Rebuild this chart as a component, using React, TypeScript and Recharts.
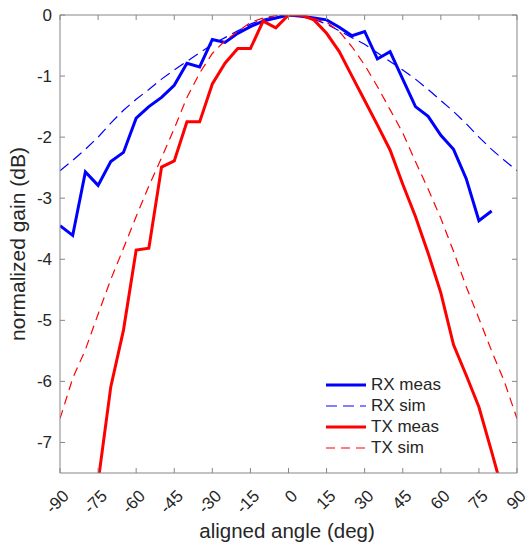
import React from "react";
import { LineChart, Line, XAxis, YAxis, Legend } from "recharts";

// x samples (deg)
const angles = [
  -90, -85, -80, -75, -70, -65, -60, -55, -50, -45, -40, -35, -30, -25, -20, -15, -10, -5,
  0, 5, 10, 15, 20, 25, 30, 35, 40, 45, 50, 55, 60, 65, 70, 75, 80, 85, 90,
];

const rxMeas = [
  -3.45, -3.61, -2.57, -2.79, -2.4, -2.25, -1.69, -1.5, -1.35, -1.15, -0.79, -0.85, -0.4, -0.45, -0.3, -0.19, -0.1, -0.05,
  0, -0.02, -0.05, -0.08, -0.2, -0.34, -0.27, -0.72, -0.6, -1.05, -1.5, -1.66, -1.97, -2.2, -2.68, -3.37, -3.21, null, null,
];

const rxSim = [
  -2.55, -2.38, -2.2, -2.0, -1.77, -1.56, -1.38, -1.22, -1.05, -0.9, -0.76, -0.62, -0.48, -0.37, -0.26, -0.15, -0.07, -0.02,
  0, -0.02, -0.07, -0.15, -0.26, -0.37, -0.48, -0.62, -0.76, -0.9, -1.05, -1.22, -1.4, -1.58, -1.78, -2.0, -2.2, -2.38, -2.55,
];

const txMeas = [
  null, null, null, -7.65, -6.09, -5.16, -3.85, -3.82, -2.49, -2.39, -1.75, -1.75, -1.13, -0.79, -0.55, -0.55, -0.1, -0.21,
  0, 0, -0.08, -0.3, -0.6, -1.0, -1.4, -1.8, -2.21, -2.77, -3.3, -3.9, -4.55, -5.4, -5.9, -6.42, -7.15, -7.9, null,
];

const txSim = [
  -6.61, -5.95, -5.48, -4.9, -4.33, -3.82, -3.3, -2.8, -2.34, -1.86, -1.35, -0.95, -0.63, -0.42, -0.27, -0.12, -0.05, -0.01,
  0, -0.02, -0.06, -0.12, -0.27, -0.52, -0.82, -1.17, -1.55, -1.93, -2.4, -2.85, -3.33, -3.87, -4.45, -4.97, -5.5, -6.0, -6.61,
];

const xTicks = [-90, -75, -60, -45, -30, -15, 0, 15, 30, 45, 60, 75, 90];
const yTicks = [0, -1, -2, -3, -4, -5, -6, -7];

const series = [
  { key: "rxMeas", name: "RX meas", color: "#0000ff", width: 3, dash: undefined },
  { key: "rxSim", name: "RX sim", color: "#0000ff", width: 1.2, dash: "11 6" },
  { key: "txMeas", name: "TX meas", color: "#ff0000", width: 3, dash: undefined },
  { key: "txSim", name: "TX sim", color: "#ff0000", width: 1.2, dash: "9 6" },
];

const data = angles.map((a, i) => ({
  angle: a,
  rxMeas: rxMeas[i],
  rxSim: rxSim[i],
  txMeas: txMeas[i],
  txSim: txSim[i],
}));

const AXIS = "#868686";
const TEXT = "#262626";
const FONT = "'Liberation Sans', Arial, Helvetica, sans-serif";

const BottomTick = (props: any) => {
  const { x, y, payload } = props;
  const tx = x + 10;
  const ty = y + 24;
  return (
    <g>
      <line x1={x} y1={y} x2={x} y2={y - 5} stroke={AXIS} />
      <text
        x={tx}
        y={ty}
        transform={`rotate(-45 ${tx} ${ty})`}
        textAnchor="end"
        fontSize={17}
        fontFamily={FONT}
        fill={TEXT}
      >
        {payload.value}
      </text>
    </g>
  );
};

const TopTick = (props: any) => {
  const { x, y } = props;
  return <line x1={x} y1={y} x2={x} y2={y + 5} stroke={AXIS} />;
};

const LeftTick = (props: any) => {
  const { x, y, payload } = props;
  return (
    <g>
      <line x1={x} y1={y} x2={x + 5} y2={y} stroke={AXIS} />
      <text x={x - 8} y={y} dy="0.35em" textAnchor="end" fontSize={17} fontFamily={FONT} fill={TEXT}>
        {payload.value}
      </text>
    </g>
  );
};

const RightTick = (props: any) => {
  const { x, y } = props;
  return <line x1={x} y1={y} x2={x - 5} y2={y} stroke={AXIS} />;
};

const renderLegend = () => (
  <div style={{ fontFamily: FONT, fontSize: 17, color: TEXT }}>
    {series.map((s) => (
      <div key={s.key} style={{ display: "flex", alignItems: "center", height: 21 }}>
        <svg width={44} height={10} style={{ marginRight: 2 }}>
          <line x1={1} y1={5} x2={41} y2={5} stroke={s.color} strokeWidth={s.width} strokeDasharray={s.dash} />
        </svg>
        <span>{s.name}</span>
      </div>
    ))}
  </div>
);

export default function App() {
  return (
    <div style={{ position: "absolute", left: 0, top: 0, width: 528, height: 545, background: "#fff" }}>
      <LineChart width={528} height={545} data={data} margin={{ top: 0, right: 0, left: 0, bottom: 0 }}>
        <XAxis
          dataKey="angle"
          type="number"
          domain={[-90, 90]}
          ticks={xTicks}
          interval={0}
          height={72}
          tickSize={0}
          tickMargin={0}
          tickLine={false}
          tick={<BottomTick />}
          axisLine={{ stroke: AXIS }}
          allowDataOverflow
          label={{
            content: () => (
              <text x={287} y={538} textAnchor="middle" fontSize={20.5} fontFamily={FONT} fill={TEXT}>
                aligned angle (deg)
              </text>
            ),
          }}
        />
        <XAxis
          xAxisId="top"
          orientation="top"
          dataKey="angle"
          type="number"
          domain={[-90, 90]}
          ticks={xTicks}
          interval={0}
          height={15}
          tickSize={0}
          tickMargin={0}
          tickLine={false}
          tick={<TopTick />}
          axisLine={{ stroke: AXIS }}
          allowDataOverflow
        />
        <YAxis
          type="number"
          domain={[-7.5, 0]}
          ticks={yTicks}
          interval={0}
          width={60}
          tickSize={0}
          tickMargin={0}
          tickLine={false}
          tick={<LeftTick />}
          axisLine={{ stroke: AXIS }}
          allowDataOverflow
          label={{
            content: () => (
              <text
                x={25}
                y={244}
                transform="rotate(-90 25 244)"
                textAnchor="middle"
                fontSize={21}
                fontFamily={FONT}
                fill={TEXT}
              >
                normalized gain (dB)
              </text>
            ),
          }}
        />
        <YAxis
          yAxisId="right"
          orientation="right"
          type="number"
          domain={[-7.5, 0]}
          ticks={yTicks}
          interval={0}
          width={11}
          tickSize={0}
          tickMargin={0}
          tickLine={false}
          tick={<RightTick />}
          axisLine={{ stroke: AXIS }}
          allowDataOverflow
        />
        {series.map((s) => (
          <Line
            key={s.key}
            dataKey={s.key}
            name={s.name}
            type="linear"
            stroke={s.color}
            strokeWidth={s.width}
            strokeDasharray={s.dash}
            dot={false}
            activeDot={false}
            isAnimationActive={false}
          />
        ))}
        <Legend
          layout="vertical"
          align="center"
          verticalAlign="middle"
          content={renderLegend}
          wrapperStyle={{ left: 325, top: 374, width: 150 }}
        />
      </LineChart>
    </div>
  );
}
